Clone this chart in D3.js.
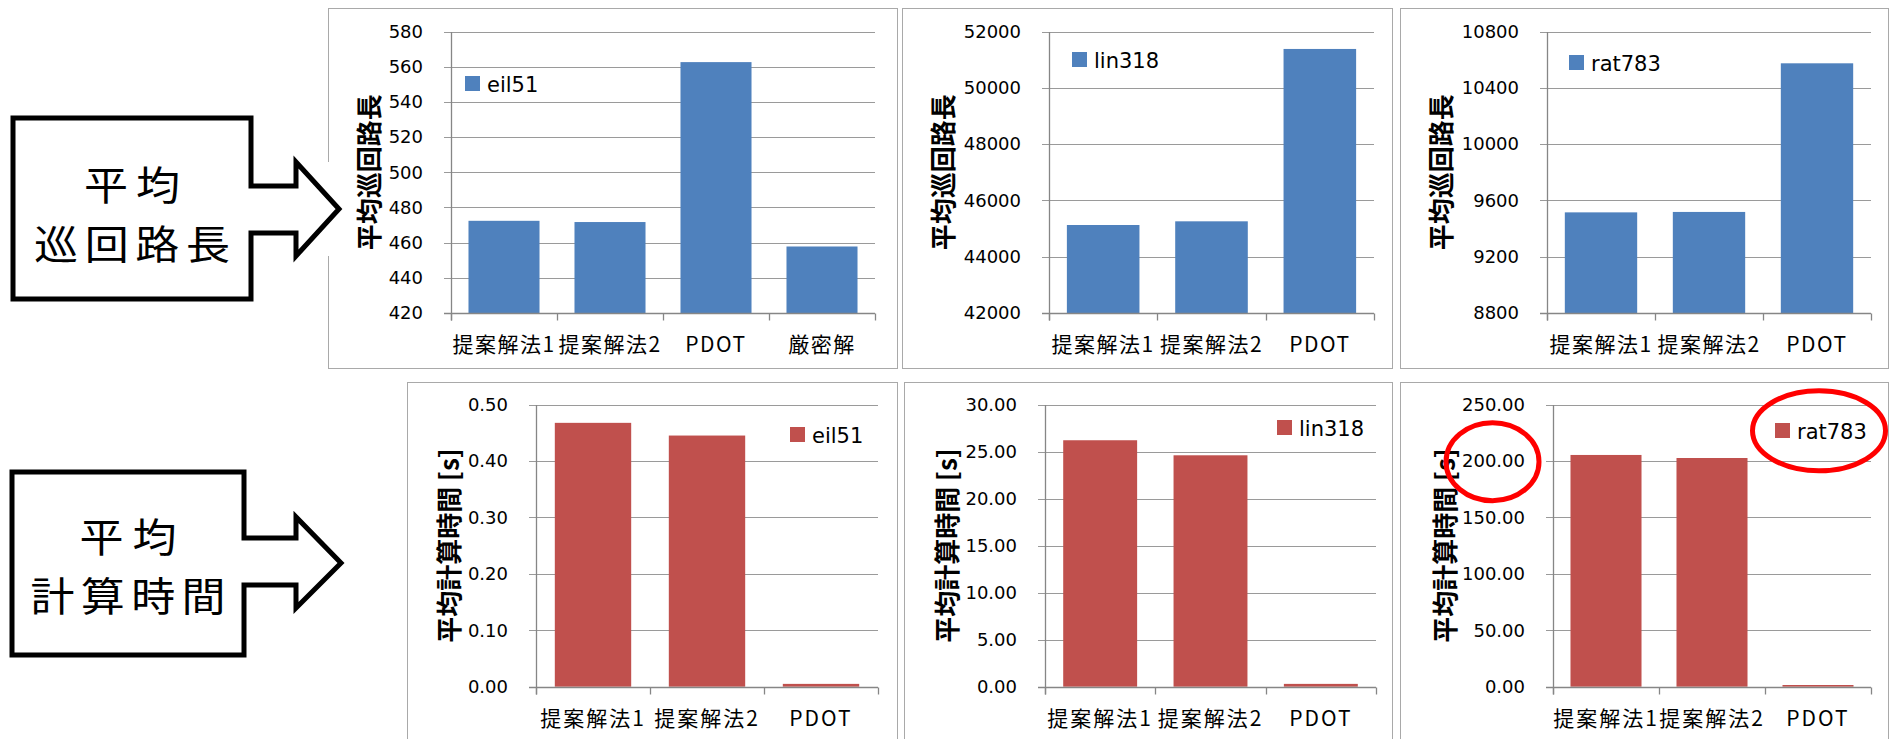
<!DOCTYPE html>
<html>
<head>
<meta charset="utf-8">
<script src="https://cdn.jsdelivr.net/npm/d3@7"></script>
<style>
  html, body { margin: 0; padding: 0; background: #fff; }
  svg { display: block; }
</style>
</head>
<body>
<svg id="chart" width="1890" height="739"></svg>
<script>
// ---------------- data ----------------
const instances = ["eil51", "lin318", "rat783"];
const methodsWithExact = ["提案解法1", "提案解法2", "PDOT", "厳密解"];
const methods = ["提案解法1", "提案解法2", "PDOT"];

// average tour length
const tourEil51  = [472.4, 471.7, 562.6, 457.8];
const tourLin318 = [45126, 45257, 51380];
const tourRat783 = [9515, 9518, 10574];

// average computation time [s]
const timeEil51  = [0.4675, 0.445, 0.005];
const timeLin318 = [26.2, 24.6, 0.3];
const timeRat783 = [205.3, 202.6, 1.5];

// y-axis tick values
const ticksTourEil51  = [420, 440, 460, 480, 500, 520, 540, 560, 580];
const ticksTourLin318 = [42000, 44000, 46000, 48000, 50000, 52000];
const ticksTourRat783 = [8800, 9200, 9600, 10000, 10400, 10800];
const ticksTimeEil51  = [0, 0.1, 0.2, 0.3, 0.4, 0.5];
const ticksTimeLin318 = [0, 5, 10, 15, 20, 25, 30];
const ticksTimeRat783 = [0, 50, 100, 150, 200, 250];

const tourTitle = "平均巡回路長";
const timeTitle = "平均計算時間 [s]";
const calloutTour = ["平均", "巡回路長"];
const calloutTime = ["平均", "計算時間"];

// ---------------- styles ----------------
const BLUE = "#4f81bd";
const RED = "#c0504d";
const GRID = "#9a9a9a";
const AXIS = "#868686";
const FRAME = "#a9a9a9";
const NUM_FONT = "'DejaVu Sans', 'Noto Sans CJK JP', sans-serif";
const CJK_FONT = "'Noto Sans CJK JP', 'Noto Sans', sans-serif";

const svg = d3.select("#chart");
const fmtInt = d3.format("d");
const fmt2 = d3.format(".2f");

// panel layout: frame [x0,y0,x1,y1], plot [x0,y0,x1,y1], title offset, legend offset
const panels = [
  { cats: methodsWithExact, values: tourEil51, ticks: ticksTourEil51, fmt: fmtInt, name: instances[0],
    title: tourTitle, color: BLUE, frame: [328, 8, 897, 368], plot: [451, 31.5, 875, 313],
    titleDx: -84, legend: [14, 44.5], labelSize: 21, labelSpacing: 1.5 },
  { cats: methods, values: tourLin318, ticks: ticksTourLin318, fmt: fmtInt, name: instances[1],
    title: tourTitle, color: BLUE, frame: [902, 8, 1392, 368], plot: [1049, 31.5, 1374, 313],
    titleDx: -108, legend: [23, 20.5], labelSize: 21, labelSpacing: 1.5 },
  { cats: methods, values: tourRat783, ticks: ticksTourRat783, fmt: fmtInt, name: instances[2],
    title: tourTitle, color: BLUE, frame: [1400, 8, 1888, 368], plot: [1547, 31.5, 1871, 313],
    titleDx: -108, legend: [22, 23.5], labelSize: 21, labelSpacing: 1.5 },
  { cats: methods, values: timeEil51, ticks: ticksTimeEil51, fmt: fmt2, name: instances[0],
    title: timeTitle, color: RED, frame: [407, 382, 897, 760], plot: [536, 404.5, 878, 686.7],
    titleDx: -89, legend: [254, 22.5], labelSize: 21, labelSpacing: 2 },
  { cats: methods, values: timeLin318, ticks: ticksTimeLin318, fmt: fmt2, name: instances[1],
    title: timeTitle, color: RED, frame: [904, 382, 1392, 760], plot: [1045, 404.5, 1376, 686.7],
    titleDx: -100, legend: [232, 15.5], labelSize: 21, labelSpacing: 2 },
  { cats: methods, values: timeRat783, ticks: ticksTimeRat783, fmt: fmt2, name: instances[2],
    title: timeTitle, color: RED, frame: [1400, 382, 1888, 760], plot: [1553, 404.5, 1871, 686.7],
    titleDx: -110, legend: [222, 18.5], labelSize: 21, labelSpacing: 2 }
];

function drawPanel(p) {
  const g = svg.append("g");
  const [fx0, fy0, fx1, fy1] = p.frame;
  const [px0, py0, px1, py1] = p.plot;
  const w = px1 - px0;

  g.append("rect")
    .attr("x", fx0 + 0.5).attr("y", fy0 + 0.5)
    .attr("width", fx1 - fx0).attr("height", fy1 - fy0)
    .attr("fill", "#fff").attr("stroke", FRAME).attr("stroke-width", 1);

  const x = d3.scaleBand().domain(p.cats).range([px0, px1])
    .paddingInner(0.33).paddingOuter(0.165);
  const y = d3.scaleLinear()
    .domain([p.ticks[0], p.ticks[p.ticks.length - 1]])
    .range([py1, py0]);

  // y axis: gridlines (with outer tick stubs) and labels
  const yAxis = d3.axisLeft(y)
    .tickValues(p.ticks)
    .tickFormat(p.fmt)
    .tickSizeInner(-(w + 7))
    .tickSizeOuter(0)
    .tickPadding(21);
  const ya = g.append("g")
    .attr("transform", `translate(${px0 - 7},0)`)
    .call(yAxis);
  ya.select(".domain").remove();
  ya.selectAll(".tick line").attr("stroke", GRID).attr("stroke-width", 1)
    .attr("shape-rendering", "crispEdges");
  ya.selectAll(".tick text")
    .attr("fill", "#000")
    .style("font-family", NUM_FONT)
    .style("font-size", "18px");

  // bars
  g.append("g").selectAll("rect").data(p.values).join("rect")
    .attr("x", (d, i) => x(p.cats[i]))
    .attr("y", d => y(d))
    .attr("width", x.bandwidth())
    .attr("height", d => y(p.ticks[0]) - y(d))
    .attr("fill", p.color);

  // axis lines
  const bx = Math.round(px0) + 0.5;
  const by = Math.round(py1) + 0.5;
  g.append("line")
    .attr("x1", bx).attr("x2", bx)
    .attr("y1", Math.round(py0)).attr("y2", by + 7)
    .attr("stroke", AXIS).attr("stroke-width", 1.3);
  g.append("line")
    .attr("x1", px0 - 7).attr("x2", px1)
    .attr("y1", by).attr("y2", by)
    .attr("stroke", AXIS).attr("stroke-width", 1.3);

  // category boundary ticks
  const bounds = p.cats.map(c => x(c) - x.step() * x.paddingInner() / 2).concat([px1]);
  g.append("g").selectAll("line").data(bounds).join("line")
    .attr("x1", d => Math.round(d) + 0.5).attr("x2", d => Math.round(d) + 0.5)
    .attr("y1", by).attr("y2", by + 7)
    .attr("stroke", AXIS).attr("stroke-width", 1.3);

  // category labels
  const xAxis = d3.axisBottom(x).tickSize(0).tickPadding(24);
  const xa = g.append("g").attr("transform", `translate(0,${py1})`).call(xAxis);
  xa.select(".domain").remove();
  xa.selectAll(".tick text")
    .attr("fill", "#000")
    .style("font-family", CJK_FONT)
    .style("font-size", p.labelSize + "px")
    .style("letter-spacing", p.labelSpacing + "px");

  // y-axis title
  const cx = px0 + p.titleDx;
  const cy = (py0 + py1) / 2;
  g.append("text")
    .attr("transform", `translate(${cx},${cy}) rotate(-90)`)
    .attr("text-anchor", "middle")
    .attr("dominant-baseline", "central")
    .style("font-family", CJK_FONT)
    .style("font-size", "26px")
    .style("font-weight", "bold")
    .attr("fill", "#000")
    .text(p.title);

  // legend
  const lx = px0 + p.legend[0];
  const ly = py0 + p.legend[1];
  g.append("rect").attr("x", lx).attr("y", ly).attr("width", 15).attr("height", 15)
    .attr("fill", p.color);
  g.append("text")
    .attr("x", lx + 22).attr("y", ly + 16)
    .style("font-family", NUM_FONT)
    .style("font-size", "21px")
    .attr("fill", "#000")
    .text(p.name);
}

panels.forEach(drawPanel);

// ---------------- callout arrows ----------------
const CALLOUT_STRETCH = 1.1;   // wide lettering inside the callout boxes

function callout(c, lines) {
  const g = svg.append("g");
  // white backing behind the arrow head
  g.append("rect")
    .attr("x", c.headX).attr("y", c.headY0)
    .attr("width", c.tipX - c.headX).attr("height", c.headY1 - c.headY0)
    .attr("fill", "#fff");
  const pts = [
    [c.x0, c.y0], [c.x1, c.y0], [c.x1, c.shaftY0], [c.headX, c.shaftY0],
    [c.headX, c.headY0], [c.tipX, c.tipY], [c.headX, c.headY1],
    [c.headX, c.shaftY1], [c.x1, c.shaftY1], [c.x1, c.y1], [c.x0, c.y1]
  ];
  g.append("path")
    .attr("d", d3.line()(pts) + "Z")
    .attr("fill", "#fff")
    .attr("stroke", "#000")
    .attr("stroke-width", 5)
    .attr("stroke-linejoin", "miter")
    .attr("stroke-miterlimit", 10);
  const tx = (c.x0 + c.x1) / 2;
  g.selectAll("text").data(lines).join("text")
    .attr("transform", (d, i) => `translate(${tx},${c.textY[i]}) scale(${CALLOUT_STRETCH},1)`)
    .attr("x", 0).attr("y", 0)
    .attr("textLength", (d, i) => c.textLen[i] / CALLOUT_STRETCH)
    .attr("lengthAdjust", "spacing")
    .attr("text-anchor", "middle")
    .attr("dominant-baseline", "central")
    .style("font-family", CJK_FONT)
    .style("font-size", "40px")
    .attr("fill", "#000")
    .text(d => d);
}

callout({ x0: 13, y0: 118, x1: 251, y1: 299, shaftY0: 186, shaftY1: 233,
          headX: 296, headY0: 162, headY1: 256, tipX: 339, tipY: 209,
          textY: [182, 241], textLen: [96, 196] }, calloutTour);

callout({ x0: 12, y0: 472, x1: 244, y1: 655, shaftY0: 538, shaftY1: 585,
          headX: 296, headY0: 517, headY1: 608, tipX: 341, tipY: 563,
          textY: [534, 593], textLen: [97, 195] }, calloutTime);

// ---------------- highlight rings ----------------
const rings = [
  { cx: 1492.5, cy: 461.7, rx: 46.5, ry: 39 },
  { cx: 1819, cy: 430.8, rx: 66.5, ry: 40 }
];
svg.append("g").selectAll("ellipse").data(rings).join("ellipse")
  .attr("cx", d => d.cx).attr("cy", d => d.cy)
  .attr("rx", d => d.rx).attr("ry", d => d.ry)
  .attr("fill", "none")
  .attr("stroke", "#ff0000")
  .attr("stroke-width", 5);
</script>
</body>
</html>
